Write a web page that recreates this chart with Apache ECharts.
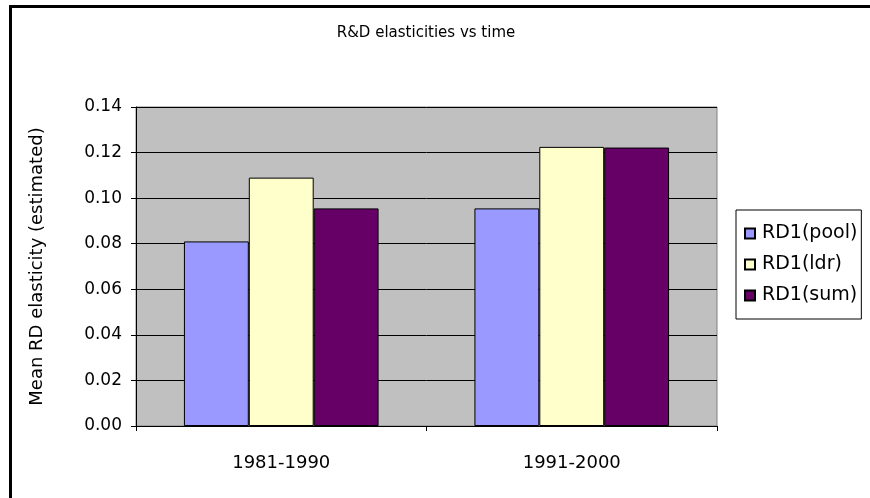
<!DOCTYPE html>
<html>
<head>
<meta charset="utf-8">
<title>R&amp;D elasticities vs time</title>
<script src="https://cdn.jsdelivr.net/npm/echarts@6/dist/echarts.min.js"></script>
<style>
  html, body { margin: 0; padding: 0; background: #fff; }
  #chart { width: 870px; height: 498px; }
</style>
</head>
<body>
<div id="chart"></div>
<script>
// data
const periods = ['1981-1990', '1991-2000']
const seriesNames = ['RD1(pool)', 'RD1(ldr)', 'RD1(sum)']
const poolValues = [0.081, 0.0955]
const ldrValues = [0.109, 0.1225]
const sumValues = [0.0955, 0.1222]
const yTicks = [0, 0.02, 0.04, 0.06, 0.08, 0.10, 0.12, 0.14]

const colors = ['#9999FF', '#FFFFCC', '#660066']
const font = '"DejaVu Sans", Arial, sans-serif'

const myChart = echarts.init(document.getElementById('chart'))

// build one bar series per name
const allValues = [poolValues, ldrValues, sumValues]
const seriesData = seriesNames.map((name, i) => ({
  name: name,
  type: 'bar',
  data: allValues[i],
  barGap: '0%',
  barCategoryGap: '33%',
  itemStyle: {
    color: colors[i],
    borderColor: '#000',
    borderWidth: 1
  },
  emphasis: { disabled: true }
}))

const myOption = {
  backgroundColor: '#fff',
  animation: false,

  graphic: [
    // frame around the chart (only left and top show in the crop)
    { type: 'line', shape: { x1: 10.5, y1: 6, x2: 10.5, y2: 498 }, style: { stroke: '#000', lineWidth: 3 } },
    { type: 'line', shape: { x1: 9, y1: 6.5, x2: 870, y2: 6.5 }, style: { stroke: '#000', lineWidth: 3 } },
    // title, centred over the plot area
    {
      type: 'text', x: 426, y: 26,
      style: { text: 'R&D elasticities vs time', font: '15px ' + font, fill: '#000', textAlign: 'center' }
    }
  ],

  grid: {
    left: 136,
    right: 153,
    top: 107,
    bottom: 72,
    show: true,
    backgroundColor: '#C0C0C0',
    borderColor: '#808080',
    borderWidth: 1
  },

  legend: {
    orient: 'vertical',
    left: 736,
    top: 210,
    padding: [14, 4, 14, 8],
    itemGap: 12,
    itemWidth: 10,
    itemHeight: 10,
    icon: 'rect',
    borderColor: '#000',
    borderWidth: 1,
    selectedMode: false,
    textStyle: { color: '#000', fontSize: 19, fontFamily: font, padding: [0, 0, 0, 2] },
    data: seriesNames
  },

  xAxis: {
    type: 'category',
    data: periods,
    axisLine: { lineStyle: { color: '#000', width: 1 } },
    axisTick: { show: true, length: 5, lineStyle: { color: '#000' } },
    axisLabel: { color: '#000', fontSize: 18, fontFamily: font, margin: 28 }
  },

  yAxis: {
    type: 'value',
    min: yTicks[0],
    max: yTicks[yTicks.length - 1],
    interval: 0.02,
    name: 'Mean RD elasticity (estimated)',
    nameLocation: 'middle',
    nameGap: 90,
    nameTextStyle: { color: '#000', fontSize: 18, fontFamily: font },
    axisLine: { show: true, lineStyle: { color: '#000', width: 1 } },
    axisTick: { show: true, length: 5, lineStyle: { color: '#000' } },
    axisLabel: {
      color: '#000', fontSize: 17, fontFamily: font, margin: 14,
      formatter: (v) => v.toFixed(2)
    },
    splitLine: { show: true, lineStyle: { color: '#000', width: 1 } }
  },

  series: seriesData
}
myChart.setOption(myOption)
</script>
</body>
</html>
